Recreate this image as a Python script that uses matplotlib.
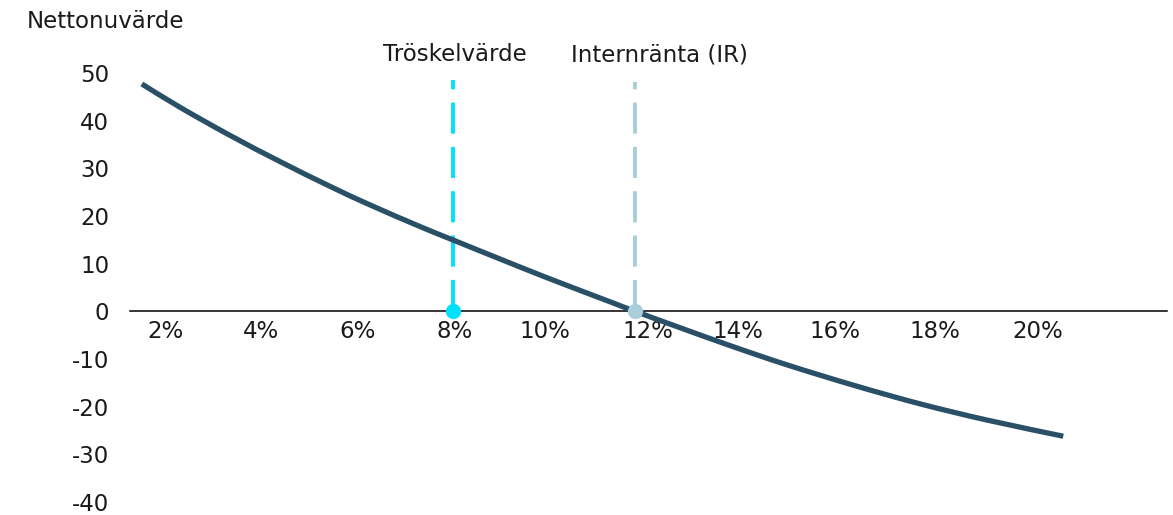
import matplotlib
matplotlib.use("Agg")
import matplotlib.pyplot as plt
from matplotlib.path import Path
from matplotlib.patches import PathPatch

# discount rate (%) and net present value
rates = [1.16, 2.00, 3.10, 4.20, 5.30, 6.18, 7.27, 7.99, 9.47, 10.35, 11.45,
         12.00, 12.92, 14.09, 15.33, 16.80, 18.26, 19.73, 21.41]
npv = [47.7, 42.8, 36.9, 31.4, 26.2, 22.3, 17.8, 15.0, 9.3, 6.0, 2.0,
       0.0, -3.2, -7.2, -11.2, -15.5, -19.4, -22.8, -26.2]

threshold_rate = 8
irr_rate = 12

tick_labels = ["2%", "4%", "6%", "8%", "10%", "12%", "14%", "16%", "18%", "20%"]
tick_pos = [1.67, 3.78, 5.91, 8.04, 10.02, 12.29, 14.26, 16.40, 18.59, 20.84]
y_ticks = [50, 40, 30, 20, 10, 0, -10, -20, -30, -40]

plt.rcParams['font.family'] = ['DejaVu Sans']
text_col = "#1a1a1a"

fig = plt.figure(figsize=(11.73, 5.15), dpi=100)
ax = fig.add_axes([130 / 1173, 13 / 515, 1037 / 1173, 429 / 515])
ax.set_xlim(0.90, 23.69)
ax.set_ylim(-40, 50)

# smoothed line like Excel (catmull-rom -> cubic bezier through the points)
pts = list(zip(rates, npv))
verts = [pts[0]]
codes = [Path.MOVETO]
n = len(pts)
for i in range(n - 1):
    p0 = pts[max(i - 1, 0)]
    p1 = pts[i]
    p2 = pts[i + 1]
    p3 = pts[min(i + 2, n - 1)]
    c1 = (p1[0] + (p2[0] - p0[0]) / 6, p1[1] + (p2[1] - p0[1]) / 6)
    c2 = (p2[0] - (p3[0] - p1[0]) / 6, p2[1] - (p3[1] - p1[1]) / 6)
    verts += [c1, c2, p2]
    codes += [Path.CURVE4] * 3
curve = PathPatch(Path(verts, codes), fill=False, edgecolor="#2a5068", lw=3.8,
                  capstyle="butt", joinstyle="round", zorder=3)
ax.add_patch(curve)

# threshold and IRR markers
ax.plot([threshold_rate, threshold_rate], [0, 48.5], color="#00e1fb", lw=2.8,
        dashes=(8, 3.4), zorder=2)
ax.plot([threshold_rate], [0], "o", color="#00e1fb", ms=10, zorder=4, clip_on=False)
ax.plot([irr_rate, irr_rate], [0, 48.2], color="#a9cdd9", lw=2.8,
        dashes=(8, 3.4), zorder=2)
ax.plot([irr_rate], [0], "o", color="#a9cdd9", ms=10, zorder=4, clip_on=False)

ax.text(threshold_rate + 0.05, 53.8, "Tröskelvärde", ha="center", va="center",
        fontsize=16.5, color=text_col, clip_on=False)
ax.text(irr_rate + 0.53, 53.8, "Internränta (IR)", ha="center", va="center",
        fontsize=16.5, color=text_col, clip_on=False)

# axes styling
for s in ["top", "right", "left"]:
    ax.spines[s].set_visible(False)
ax.spines["bottom"].set_position(("data", 0))
ax.spines["bottom"].set_linewidth(1.1)
ax.spines["bottom"].set_color("black")
ax.spines["bottom"].set_zorder(1)

ax.set_xticks(tick_pos)
ax.set_xticklabels(tick_labels)
ax.set_yticks(y_ticks)
ax.set_yticklabels([str(v) for v in y_ticks])
ax.tick_params(axis="x", length=0, pad=6, labelsize=16.5, labelcolor=text_col)
ax.tick_params(axis="y", length=0, pad=15, labelsize=16.5, labelcolor=text_col)

fig.text(27 / 1173, 1 - 22 / 515, "Nettonuvärde", ha="left", va="center",
         fontsize=16.5, color=text_col)

fig.savefig("out.png", dpi=100)
